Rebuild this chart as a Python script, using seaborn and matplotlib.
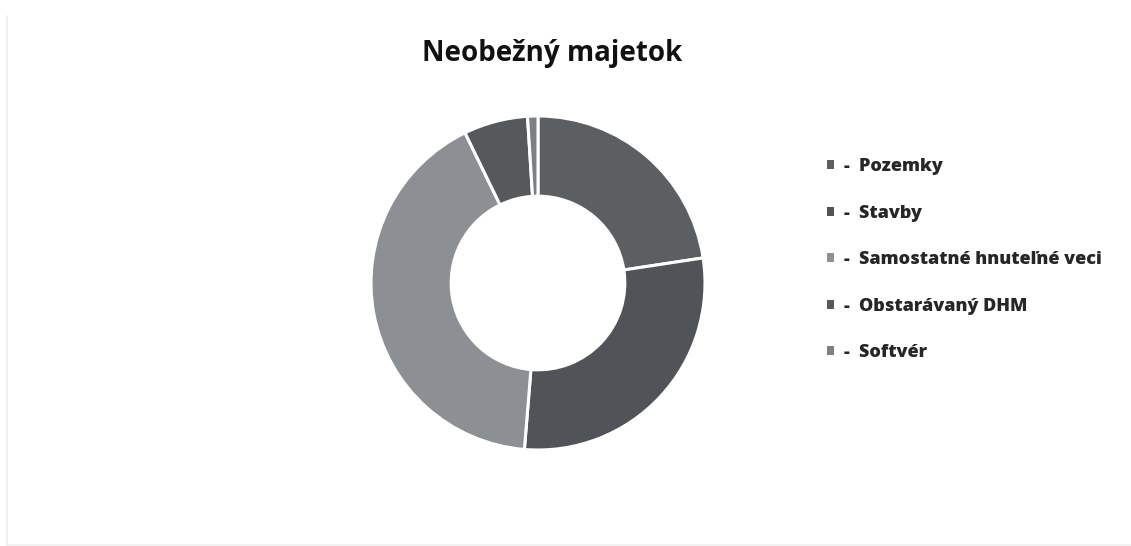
import matplotlib
matplotlib.use("Agg")
import matplotlib.pyplot as plt
from matplotlib.patches import Patch
import seaborn as sns

# Štruktúra neobežného majetku (podiel v %)
categories = ["Pozemky", "Stavby", "Samostatné hnuteľné veci", "Obstarávaný DHM", "Softvér"]
shares = [22.6, 28.7, 41.5, 6.2, 1.0]
colors = ["#5b5f61", "#505459", "#8c9094", "#56595c", "#7c8083"]
title = "Neobežný majetok"

sns.set_theme(style="white")
plt.rcParams["font.family"] = ["Open Sans", "DejaVu Sans"]

W, H = 1131, 546
fig = plt.figure(figsize=(W / 100, H / 100), dpi=100)
fig.patch.set_facecolor("white")

# square axes holding the donut
cx, cy, r = 538, 283, 167
ax = fig.add_axes([(cx - r) / W, (H - cy - r) / H, 2 * r / W, 2 * r / H])
wedges, _ = ax.pie(
    shares,
    colors=colors,
    startangle=90,
    counterclock=False,
    radius=1.0,
    wedgeprops=dict(width=0.48, edgecolor="white", linewidth=2.2),
)
ax.set_xlim(-1.0, 1.0)
ax.set_ylim(-1.0, 1.0)
ax.set_aspect("equal")
ax.axis("off")

fig.text(552 / W, 1 - 54 / H, title, ha="center", va="center",
         fontsize=20, fontweight="bold", color="#111111")

handles = [Patch(facecolor=c, edgecolor="none") for c in colors]
labels = [f"-  {c}" for c in categories]
fig.legend(
    handles, labels,
    loc="upper left",
    bbox_to_anchor=(811 / W, 1 - 142 / H),
    frameon=False,
    prop=dict(family=["Open Sans", "DejaVu Sans"], weight="heavy", size=13),
    handlelength=0.4,
    handleheight=0.4,
    handletextpad=0.5,
    labelspacing=1.63,
)

# faint frame edges of the chart area
fig.add_artist(plt.Line2D([7 / W, 7 / W], [0.0, 0.97], color="#ececec", lw=1.2))
fig.add_artist(plt.Line2D([7 / W, 1.0], [1.5 / H, 1.5 / H], color="#f0f0f0", lw=1.2))

fig.savefig("out.png", dpi=100, facecolor="white")
